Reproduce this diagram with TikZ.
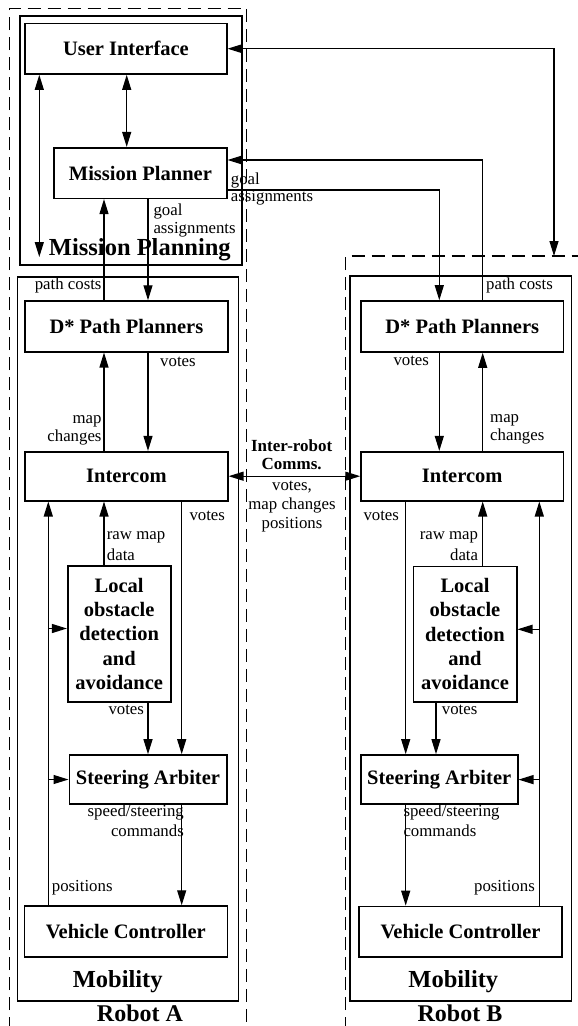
\documentclass[tikz,border=0pt]{standalone}
\usepackage{fontspec}
\setmainfont{Liberation Serif}
\usetikzlibrary{arrows.meta}
\begin{document}
\begin{tikzpicture}[x=1pt,y=-1pt,
  box/.style={draw, line width=1.6pt, inner sep=0pt, align=center,
    font=\fontsize{20.5}{24.2}\selectfont\bfseries},
  group/.style={draw, line width=1.6pt, inner sep=0pt},
  robot/.style={line width=1.5pt, dash pattern=on 13pt off 7pt},
  lbl/.style={inner sep=0pt, font=\fontsize{16.8}{17.5}\selectfont},
  lblw/.style={inner sep=0pt, font=\fontsize{16.8}{20.3}\selectfont},
  title/.style={inner sep=0pt, font=\fontsize{24.5}{28}\selectfont\bfseries},
  flow/.style={line width=1.2pt, -{Triangle[length=15pt,width=9pt]}},
  both/.style={line width=1.2pt, {Triangle[length=15pt,width=9pt]}-{Triangle[length=15pt,width=9pt]}},
]
\useasboundingbox (0,0) rectangle (578,1026);

% robot borders (open at the bottom / right)
\draw[robot] (9.3,1030) -- (9.3,8.3) -- (246.7,8.3) -- (246.7,1030);
\draw[robot] (345.7,1030) -- (345.7,256) -- (585,256);

% subsystem containers
\node[group, minimum width=221.7pt, minimum height=249pt] (mplan) at (130.85,140.5) {};
\node[group, minimum width=221pt, minimum height=724.3pt] (mobA) at (128,638.85) {};
\node[group, minimum width=221.5pt, minimum height=725pt] (mobB) at (460.75,638.5) {};

% modules, robot A
\node[box, minimum width=201.7pt, minimum height=50.7pt] (ui) at (125.9,48.7) {User Interface};
\node[box, minimum width=172.7pt, minimum height=50.6pt] (mp) at (140.4,173) {Mission Planner};
\node[box, minimum width=202.7pt, minimum height=50.7pt] (dsA) at (126.4,326.4) {D* Path Planners};
\node[box, minimum width=202.7pt, minimum height=49pt] (icA) at (126.4,476.2) {Intercom};
\node[box, minimum width=103pt, minimum height=135.7pt] (locA) at (119.2,633.9) {Local\\obstacle\\detection\\and\\avoidance};
\node[box, minimum width=157.4pt, minimum height=49pt] (stA) at (148,779.5) {Steering Arbiter};
\node[box, minimum width=203pt, minimum height=50.7pt] (vcA) at (125.8,931.4) {Vehicle Controller};

% modules, robot B
\node[box, minimum width=202.3pt, minimum height=51pt] (dsB) at (462.2,326.5) {D* Path Planners};
\node[box, minimum width=202.3pt, minimum height=49pt] (icB) at (462.2,476.2) {Intercom};
\node[box, minimum width=103.4pt, minimum height=135.2pt] (locB) at (465,634.1) {Local\\obstacle\\detection\\and\\avoidance};
\node[box, minimum width=157pt, minimum height=49.3pt] (stB) at (439.2,779.6) {Steering Arbiter};
\node[box, minimum width=203pt, minimum height=50.5pt] (vcB) at (460.5,931.7) {Vehicle Controller};

% connector columns and rows
\coordinate (cuiL) at (39.3,0);
\coordinate (cui) at (126.7,0);
\coordinate (ca0) at (48.3,0);
\coordinate (ca1) at (104,0);
\coordinate (ca2) at (148,0);
\coordinate (ca3) at (181.7,0);
\coordinate (cb0) at (405.7,0);
\coordinate (cb1) at (436,0);
\coordinate (cb2) at (439.3,0);
\coordinate (cb3) at (482.7,0);
\coordinate (cb4) at (539.3,0);
\coordinate (rin) at (0,160);
\coordinate (rout) at (0,190);
\coordinate (rlocA) at (0,628.5);
\coordinate (rlocB) at (0,629.3);
\coordinate (uiend) at (39.3,257);
\coordinate (robBtop) at (554,256);

% mission planning links
\draw[both] (ui.south -| cui) -- (mp.north -| cui);
\draw[both] (ui.south -| cuiL) -- (uiend);
\draw[both] (ui.east) -| (robBtop);
\draw[flow] (dsB.north -| cb3) |- (mp.east |- rin);
\draw[flow] (mp.east |- rout) -| (dsB.north -| cb2);
\draw[flow] (mp.south -| ca2) -- (dsA.north -| ca2);
\draw[flow] (dsA.north -| ca1) -- (mp.south -| ca1);

% robot A mobility
\draw[flow] (icA.north -| ca1) -- (dsA.south -| ca1);
\draw[flow] (dsA.south -| ca2) -- (icA.north -| ca2);
\draw[flow] (icA.south -| ca3) -- (stA.north -| ca3);
\draw[flow] (locA.north -| ca1) -- (icA.south -| ca1);
\draw[flow] (locA.south -| ca2) -- (stA.north -| ca2);
\draw[flow] (vcA.north -| ca0) -- (icA.south -| ca0);
\draw[flow] (ca0 |- rlocA) -- (locA.west |- rlocA);
\draw[flow] (ca0 |- stA.west) -- (stA.west);
\draw[flow] (stA.south -| ca3) -- (vcA.north -| ca3);

% inter-robot link
\draw[both] (icA.east) -- (icB.west);

% robot B mobility
\draw[flow] (dsB.south -| cb2) -- (icB.north -| cb2);
\draw[flow] (icB.north -| cb3) -- (dsB.south -| cb3);
\draw[flow] (icB.south -| cb0) -- (stB.north -| cb0);
\draw[flow] (locB.north -| cb3) -- (icB.south -| cb3);
\draw[flow] (locB.south -| cb1) -- (stB.north -| cb1);
\draw[flow] (vcB.north -| cb4) -- (icB.south -| cb4);
\draw[flow] (cb4 |- rlocB) -- (locB.east |- rlocB);
\draw[flow] (cb4 |- stB.east) -- (stB.east);
\draw[flow] (stB.south -| cb0) -- (vcB.north -| cb0);

% labels, robot A (multi-line labels sit on their last baseline)
\node[lbl, align=left, anchor=base west] (lgoal1) at (230.7,201.7) {goal\\assignments};
\node[lbl, align=left, anchor=base west] (lgoal2) at (153.3,233) {goal\\assignments};
\node[lbl, anchor=base east] (lcostA) at (101.7,289) {path costs};
\node[lbl, anchor=base west] (lvoteA1) at (160,366) {votes};
\node[lbl, align=right, anchor=base east] (lmapA) at (101.7,441) {map\\changes};
\node[lbl, anchor=base west] (lvoteA2) at (189.3,520.7) {votes};
\node[lblw, align=left, anchor=base west] (lrawA) at (106.7,560) {raw map\\data};
\node[lbl, anchor=base west] (lvoteA3) at (108.3,714) {votes};
\node[lblw, align=right, anchor=base east] (lspeedA) at (184,836.7) {speed/steering\\commands};
\node[lbl, anchor=base west] (lposA) at (51.7,891.7) {positions};

% labels, robot B
\node[lbl, anchor=base west] (lcostB) at (486,289) {path costs};
\node[lbl, anchor=base west] (lvoteB1) at (393.3,365) {votes};
\node[lbl, align=left, anchor=base west] (lmapB) at (490,440) {map\\changes};
\node[lbl, anchor=base west] (lvoteB2) at (363.3,520.7) {votes};
\node[lblw, align=right, anchor=base east] (lrawB) at (478.3,560) {raw map\\data};
\node[lbl, anchor=base west] (lvoteB3) at (441.7,714) {votes};
\node[lblw, align=left, anchor=base west] (lspeedB) at (403.3,836.7) {speed/steering\\commands};
\node[lbl, anchor=base east] (lposB) at (535,891.7) {positions};

% inter-robot labels
\node[lbl, font=\fontsize{17}{17.3}\selectfont\bfseries, align=center, anchor=base] (lcomms) at (291.7,469) {Inter-robot\\Comms.};
\node[lbl, font=\fontsize{16.8}{18.8}\selectfont, align=center, anchor=base] (lcontent) at (292,528.3) {votes,\\map changes\\positions};

% titles
\node[title, anchor=base] (tmp) at (139.85,255) {Mission Planning};
\node[title, anchor=base] (tmobA) at (117.7,987) {Mobility};
\node[title, anchor=base] (tmobB) at (453.3,987) {Mobility};
\node[title, font=\fontsize{24}{28}\selectfont\bfseries, anchor=base] (trobA) at (140,1021.5) {Robot A};
\node[title, font=\fontsize{24}{28}\selectfont\bfseries, anchor=base] (trobB) at (460,1021.5) {Robot B};
\end{tikzpicture}
\end{document}
